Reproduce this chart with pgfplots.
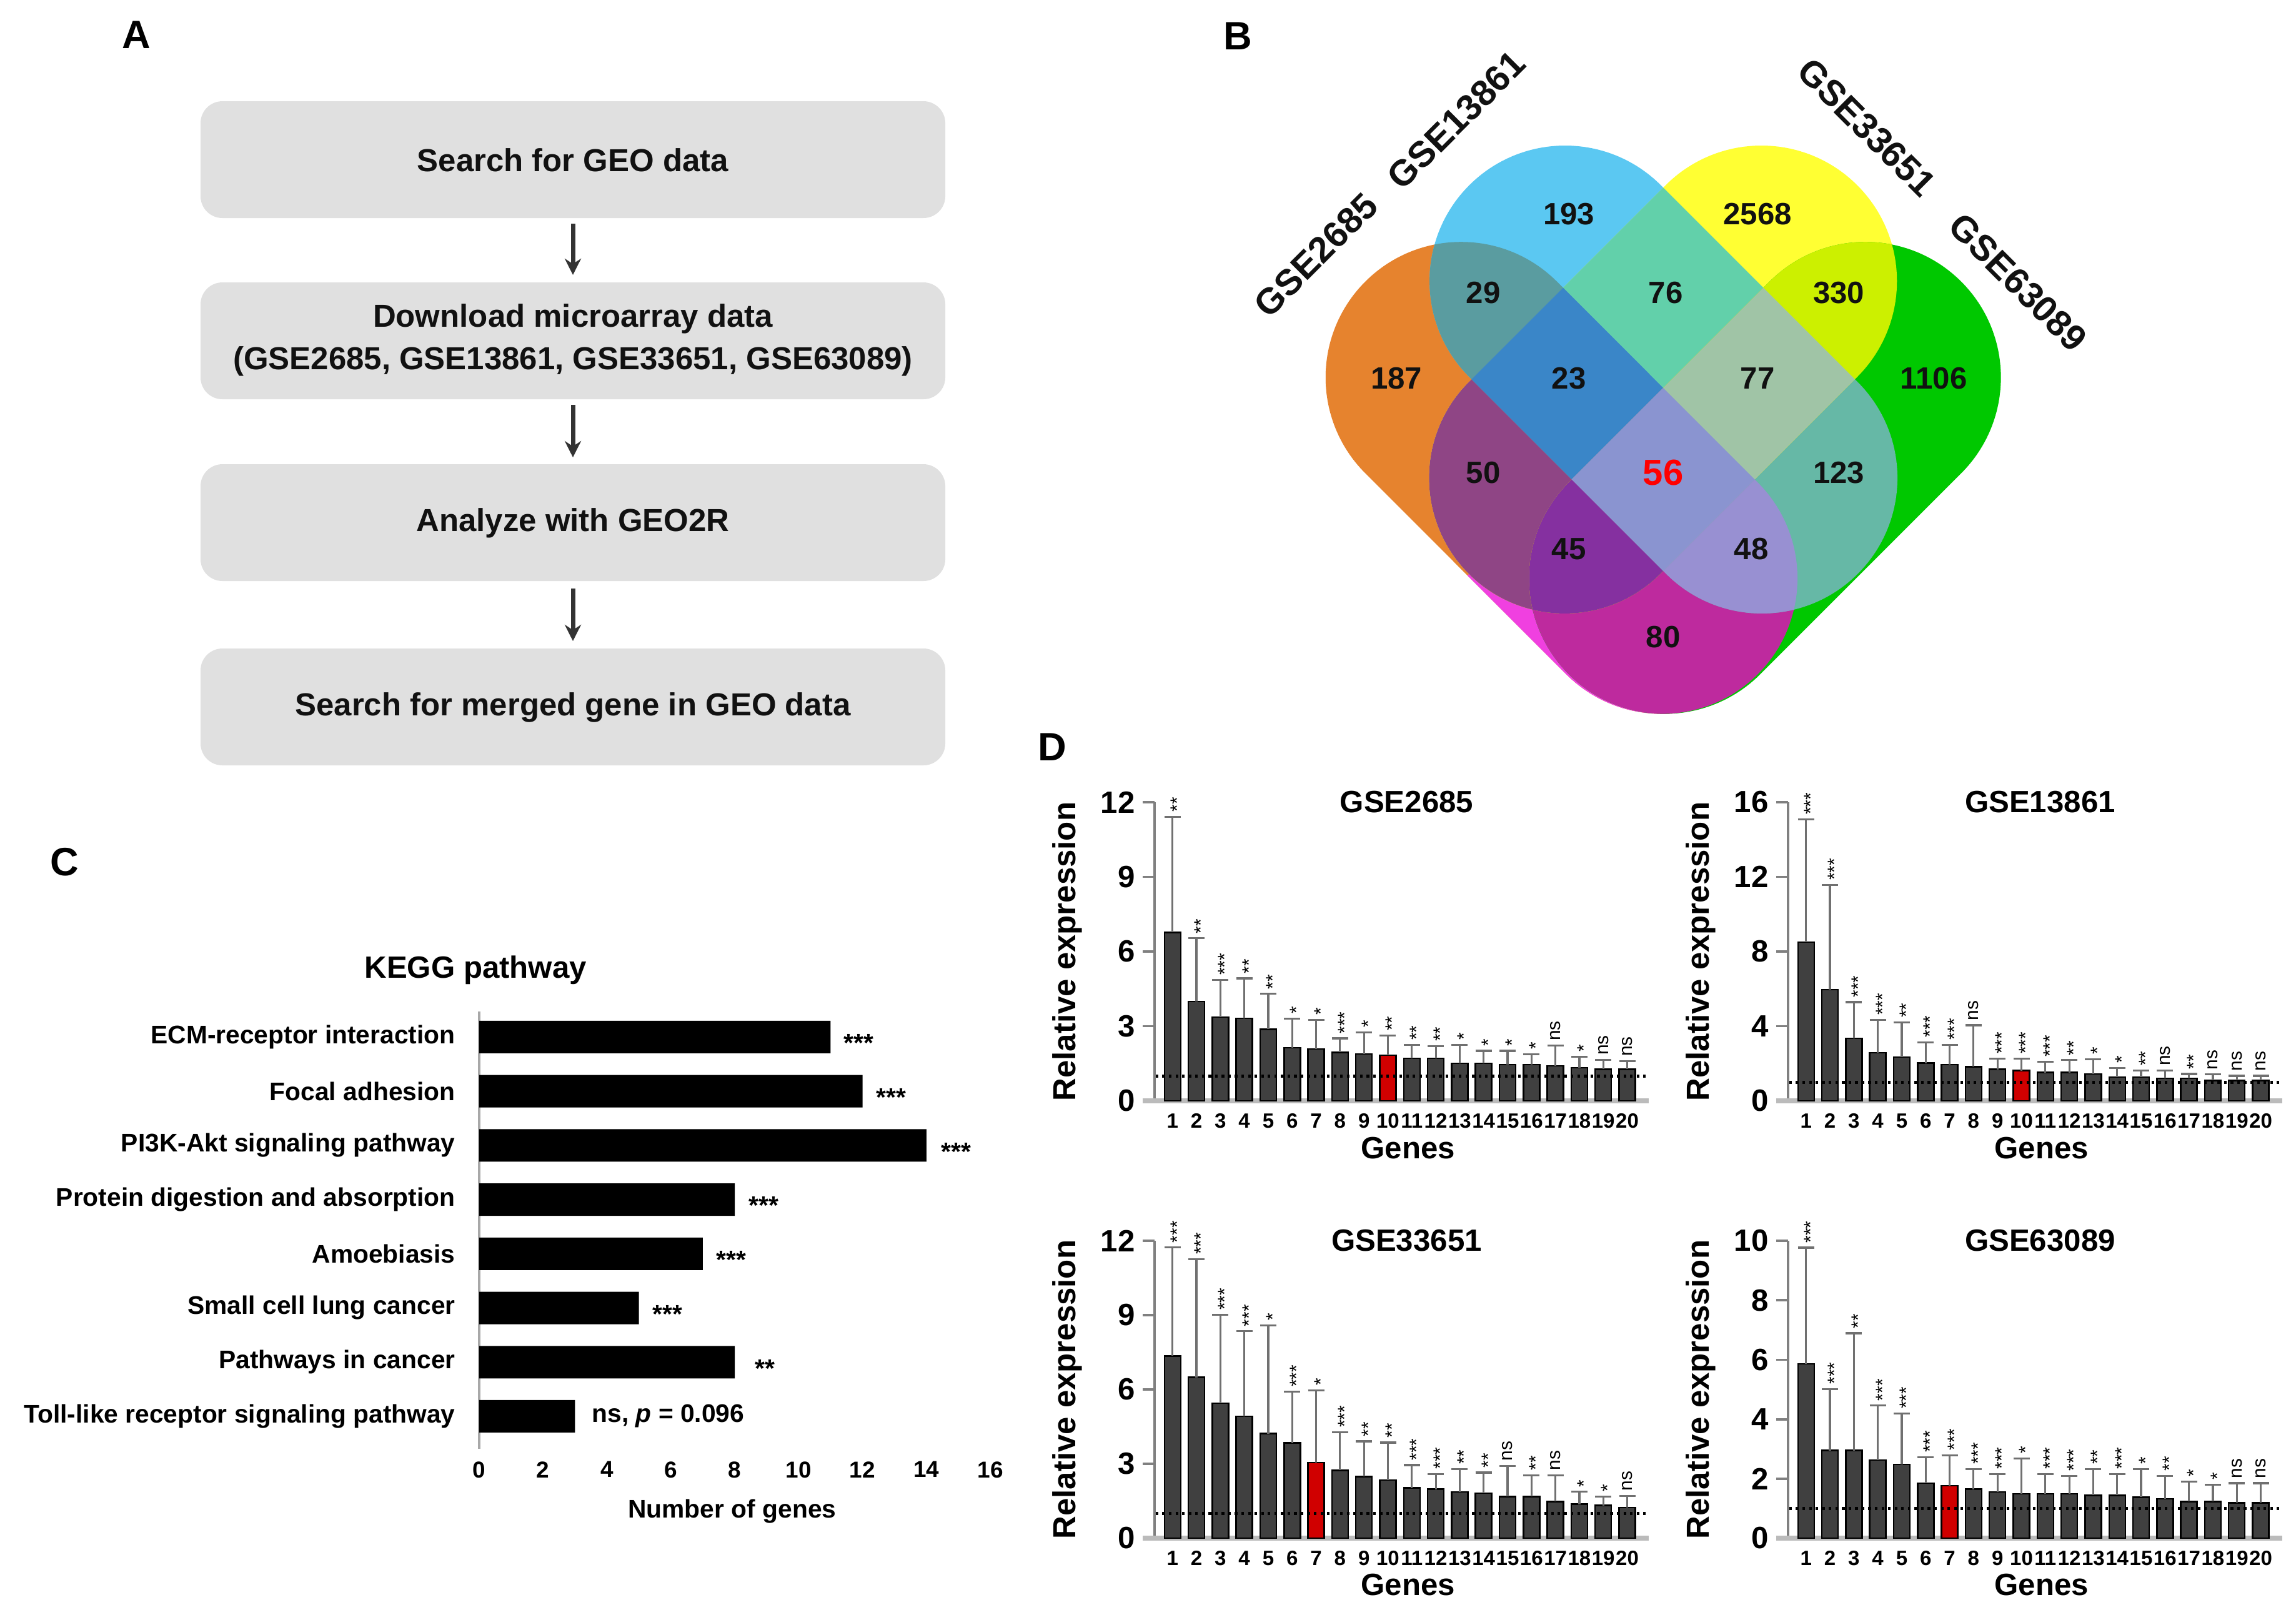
\documentclass[border=0pt]{standalone}
\usepackage{fontspec}
\setmainfont{Liberation Sans}
\usepackage{pgfplots}
\usepackage{pgfplotstable}
\pgfplotsset{compat=1.18}
\usetikzlibrary{arrows.meta}

\definecolor{boxgrey}{HTML}{E0E0E0}
\definecolor{arrowc}{HTML}{333333}
\definecolor{cO}{HTML}{E6832E}
\definecolor{cB}{HTML}{5BC8F2}
\definecolor{cY}{HTML}{FFFF33}
\definecolor{cG}{HTML}{00C800}
\definecolor{cOB}{HTML}{5A9CA0}
\definecolor{cOY}{HTML}{8F4585}
\definecolor{cOG}{HTML}{BE2A9E}
\definecolor{cBY}{HTML}{62D0AA}
\definecolor{cBG}{HTML}{66B8A6}
\definecolor{cYG}{HTML}{CCF000}
\definecolor{cOBY}{HTML}{3A86C8}
\definecolor{cOBG}{HTML}{9890D2}
\definecolor{cOYG}{HTML}{8530A0}
\definecolor{cBYG}{HTML}{A0C4A6}
\definecolor{cOBYG}{HTML}{8A94D0}
\definecolor{cPink}{HTML}{F040E0}
\definecolor{bardark}{HTML}{404040}
\definecolor{barred}{HTML}{D00000}
\definecolor{errgrey}{HTML}{707070}
\definecolor{axgrey}{HTML}{808080}
\definecolor{xaxgrey}{HTML}{BBBBBB}
\definecolor{cgrey}{HTML}{A8A8A8}
\definecolor{txt}{HTML}{111111}

\newcommand{\fs}[1]{\fontsize{#1}{#1}\selectfont}
\protected\def\SigA{\smash{\raisebox{-0.585em}{*}}}
\protected\def\SigB{\smash{\raisebox{-0.585em}{**}}}
\protected\def\SigC{\smash{\raisebox{-0.585em}{***}}}
\protected\def\SigN{\smash{\raisebox{-0.26em}{ns}}}

% Venn capsules (pixel coordinates, y downwards)
\def\VO{(2338.6,604.1) ++(135:216.9) arc[start angle=135,end angle=315,radius=216.9] -- ++(321.5,321.6) arc[start angle=-45,end angle=135,radius=216.9] -- cycle}
\def\VB{(2505.0,449.9) ++(135:216.9) arc[start angle=135,end angle=315,radius=216.9] -- ++(315.1,315.1) arc[start angle=-45,end angle=135,radius=216.9] -- cycle}
\def\VY{(2819.3,449.9) ++(225:216.9) arc[start angle=225,end angle=405,radius=216.9] -- ++(-315.1,315.1) arc[start angle=45,end angle=225,radius=216.9] -- cycle}
\def\VG{(2985.7,604.1) ++(225:216.9) arc[start angle=225,end angle=405,radius=216.9] -- ++(-321.5,321.6) arc[start angle=45,end angle=225,radius=216.9] -- cycle}

% Panel D data: gene, mean, top of error bar, significance
\pgfplotstableread{
x y t s
1 6.77 11.42 \SigB
2 3.99 6.53 \SigB
3 3.36 4.86 \SigC
4 3.31 4.92 \SigB
5 2.88 4.30 \SigB
6 2.14 3.30 \SigA
7 2.08 3.26 \SigA
8 1.95 2.51 \SigC
9 1.89 2.75 \SigA
10 1.84 2.62 \SigB
11 1.71 2.25 \SigB
12 1.71 2.20 \SigB
13 1.51 2.25 \SigA
14 1.51 2.01 \SigA
15 1.46 2.01 \SigA
16 1.46 1.87 \SigA
17 1.40 2.22 \SigN
18 1.33 1.78 \SigA
19 1.27 1.64 \SigN
20 1.27 1.59 \SigN
}\dA
\pgfplotstableread{
x y t s
1 8.51 15.08 \SigC
2 5.96 11.56 \SigC
3 3.34 5.29 \SigC
4 2.58 4.33 \SigC
5 2.35 4.20 \SigB
6 2.02 3.14 \SigC
7 1.95 2.99 \SigC
8 1.83 4.05 \SigN
9 1.69 2.26 \SigC
10 1.62 2.26 \SigC
11 1.52 2.09 \SigC
12 1.52 2.18 \SigB
13 1.44 2.23 \SigA
14 1.27 1.76 \SigA
15 1.27 1.62 \SigB
16 1.20 1.62 \SigN
17 1.20 1.44 \SigB
18 1.09 1.41 \SigN
19 1.09 1.34 \SigN
20 1.09 1.34 \SigN
}\dB
\pgfplotstableread{
x y t s
1 7.35 11.73 \SigC
2 6.49 11.26 \SigC
3 5.44 9.01 \SigC
4 4.92 8.35 \SigC
5 4.22 8.59 \SigA
6 3.84 5.91 \SigC
7 3.05 5.97 \SigA
8 2.74 4.27 \SigC
9 2.49 3.91 \SigB
10 2.35 3.86 \SigB
11 2.03 2.95 \SigC
12 1.98 2.59 \SigC
13 1.86 2.79 \SigB
14 1.81 2.65 \SigB
15 1.68 2.92 \SigN
16 1.68 2.54 \SigB
17 1.48 2.54 \SigN
18 1.37 1.87 \SigA
19 1.32 1.68 \SigA
20 1.24 1.71 \SigN
}\dC
\pgfplotstableread{
x y t s
1 5.86 9.77 \SigC
2 2.95 5.02 \SigC
3 2.95 6.89 \SigB
4 2.63 4.46 \SigC
5 2.48 4.19 \SigC
6 1.85 2.72 \SigC
7 1.76 2.79 \SigC
8 1.65 2.32 \SigC
9 1.55 2.16 \SigC
10 1.49 2.68 \SigA
11 1.49 2.16 \SigC
12 1.49 2.10 \SigC
13 1.44 2.32 \SigB
14 1.44 2.16 \SigC
15 1.38 2.32 \SigA
16 1.33 2.10 \SigB
17 1.23 1.91 \SigA
18 1.23 1.80 \SigA
19 1.19 1.85 \SigN
20 1.19 1.85 \SigN
}\dD

\pgfplotsset{
  dpanel/.style={
    scale only axis, anchor=south west, width=79.1mm,
    xmin=0.25, xmax=20.9, ymin=0,
    axis x line*=bottom, axis y line*=left,
    x axis line style={draw=none, -},
    y axis line style={draw=axgrey, line width=1.1pt, -},
    xtick={1,...,20},
    xtick style={draw=none},
    ytick style={draw=axgrey, line width=1.1pt},
    tick align=outside, major tick length=1.9mm,
    clip=false,
    /pgf/number format/assume math mode=true,
    xticklabel style={font=\fs{9.4}\bfseries, yshift=1.1mm},
    yticklabel style={font=\fs{14}\bfseries},
    every axis title/.style={font=\fs{14}\bfseries, at={(axis description cs:0.51,1)}, anchor=center},
    xlabel={Genes}, ylabel={Relative expression},
    xlabel style={font=\fs{14}\bfseries, at={(axis description cs:0.513,-0.157)}, anchor=center},
    ylabel style={font=\fs{14.5}\bfseries, at={(axis description cs:-0.177,0.5)}, anchor=center},
  },
  darkbar/.style={ybar, bar width=2.6mm, bar shift=0pt, fill=bardark, draw=black, line width=0.7pt,
    error bars/.cd, y dir=plus, y explicit,
    error bar style={draw=errgrey, line width=0.9pt, solid},
    error mark options={draw=errgrey, line width=0.9pt, mark size=1.3mm, rotate=90}},
  redbar/.style={ybar, bar width=2.6mm, bar shift=0pt, fill=barred, draw=black, line width=0.7pt,
    restrict x to domain=#1,
    error bars/.cd, y dir=plus, y explicit,
    error bar style={draw=errgrey, line width=0.9pt, solid},
    error mark options={draw=errgrey, line width=0.9pt, mark size=1.3mm, rotate=90}},
  sigl/.style={draw=none, mark=none, nodes near coords, point meta=explicit symbolic,
    every node near coord/.append style={rotate=90, anchor=west, inner sep=2pt, font=\fs{8.5}, text=black}},
  refline/.style={black, line width=1.4pt, dash pattern=on 1.2pt off 1.8pt, mark=none},
}

\begin{document}
\begin{tikzpicture}
\path[use as bounding box] (0,0) rectangle (367.5mm,-259.2mm);

\begin{scope}[x=0.1mm,y=-0.1mm]
% ---------------- Panel A ----------------
\node[font=\fs{18}\bfseries] at (218,56) {A};
\foreach \ya/\yb in {162/349, 452/639, 743/930, 1038/1225}
  \fill[boxgrey, rounded corners=3.5mm] (321,\ya) rectangle (1513,\yb);
\node[font=\fs{14.5}\bfseries, text=txt] at (917,256) {Search for GEO data};
\node[font=\fontsize{14.5}{19.3}\selectfont\bfseries, text=txt, align=center] at (917,544) {Download microarray data\\(GSE2685, GSE13861, GSE33651, GSE63089)};
\node[font=\fs{14.5}\bfseries, text=txt] at (917,837) {Analyze with GEO2R};
\node[font=\fs{14.5}\bfseries, text=txt] at (917,1132) {Search for merged gene in GEO data};
\foreach \ya/\yb in {358/440, 648/732, 942/1026}
  \draw[arrowc, line width=2pt, -{Stealth[length=2.6mm,width=2.6mm]}] (917,\ya) -- (917,\yb);

% ---------------- Panel B ----------------
\node[font=\fs{18}\bfseries] at (1981,58) {B};
\fill[cO] \VO;
\begin{scope}\clip \VO; \fill[cPink] (2270,1000) -- (3270,0) -- (4070,800) -- (3070,1800) -- cycle; \end{scope}
\fill[cB] \VB;
\fill[cY] \VY;
\fill[cG] \VG;
\begin{scope}\clip \VO; \fill[cOB] \VB; \end{scope}
\begin{scope}\clip \VO; \fill[cOY] \VY; \end{scope}
\begin{scope}\clip \VO; \fill[cOG] \VG; \end{scope}
\begin{scope}\clip \VB; \fill[cBY] \VY; \end{scope}
\begin{scope}\clip \VB; \fill[cBG] \VG; \end{scope}
\begin{scope}\clip \VY; \fill[cYG] \VG; \end{scope}
\begin{scope}\clip \VO; \clip \VB; \fill[cOBY] \VY; \end{scope}
\begin{scope}\clip \VO; \clip \VB; \fill[cOBG] \VG; \end{scope}
\begin{scope}\clip \VO; \clip \VY; \fill[cOYG] \VG; \end{scope}
\begin{scope}\clip \VB; \clip \VY; \fill[cBYG] \VG; \end{scope}
\begin{scope}\clip \VO; \clip \VB; \clip \VY; \fill[cOBYG] \VG; \end{scope}

\begin{scope}[every node/.style={font=\fs{14}\bfseries, text=txt}]
\node at (2511,343) {193};
\node at (2813,343) {2568};
\node at (2374,469) {29};
\node at (2666,469) {76};
\node at (2943,469) {330};
\node at (2235,606) {187};
\node at (2511,606) {23};
\node at (2813,606) {77};
\node at (3095,606) {1106};
\node at (2374,757) {50};
\node at (2943,757) {123};
\node at (2511,879) {45};
\node at (2803,879) {48};
\node at (2662,1020) {80};
\end{scope}
\node[font=\fs{16.5}\bfseries, text=red] at (2662,757) {56};
\node[font=\fs{16.5}\bfseries, text=txt, rotate=45] at (2106,408) {GSE2685};
\node[font=\fs{16.5}\bfseries, text=txt, rotate=45] at (2331,192) {GSE13861};
\node[font=\fs{16.5}\bfseries, text=txt, rotate=-45] at (2988,204) {GSE33651};
\node[font=\fs{16.5}\bfseries, text=txt, rotate=-45] at (3230,452) {GSE63089};

% ---------------- Panel letters ----------------
\node[font=\fs{18}\bfseries] at (103,1380) {C};
\node[font=\fs{18}\bfseries] at (1684,1196) {D};
\end{scope}

% ---------------- Panel C ----------------
\begin{axis}[scale only axis, anchor=south west, at={(76.7mm,-231.9mm)},
  width=81.8mm, height=70mm,
  xmin=0, xmax=16, ymin=-0.6, ymax=7.47,
  axis x line*=bottom, axis y line*=left,
  x axis line style={draw=none, -},
  y axis line style={draw=cgrey, line width=1.4pt, -},
  xtick={0,2,...,16}, ytick={0,...,7},
  yticklabels={Toll-like receptor signaling pathway, Pathways in cancer, Small cell lung cancer, Amoebiasis, Protein digestion and absorption, PI3K-Akt signaling pathway, Focal adhesion, ECM-receptor interaction},
  tick style={draw=none},
  clip=false,
  /pgf/number format/assume math mode=true,
  xticklabel style={font=\fs{10.5}\bfseries, yshift=-0.8mm},
  yticklabel style={font=\fs{11.6}\bfseries, xshift=-2.6mm},
  title={KEGG pathway},
  every axis title/.style={font=\fs{14}\bfseries, at={(axis description cs:-0.007,1)}, anchor=center, yshift=6.6mm},
  xlabel={Number of genes},
  xlabel style={font=\fs{11.6}\bfseries, at={(axis description cs:0.495,-0.143)}, anchor=center},
]
\addplot[xbar, bar width=5.2mm, bar shift=0pt, fill=black, draw=none]
  coordinates {(3,0) (8,1) (5,2) (7,3) (8,4) (14,5) (12,6) (11,7)};
\begin{scope}[every node/.style={anchor=west, inner sep=0pt, font=\fs{11.6}\bfseries}]
\node at (axis cs:11.40,7) {\smash{\raisebox{-0.585em}{***}}};
\node at (axis cs:12.42,6) {\smash{\raisebox{-0.585em}{***}}};
\node at (axis cs:14.46,5) {\smash{\raisebox{-0.585em}{***}}};
\node at (axis cs:8.43,4) {\smash{\raisebox{-0.585em}{***}}};
\node at (axis cs:7.41,3) {\smash{\raisebox{-0.585em}{***}}};
\node at (axis cs:5.42,2) {\smash{\raisebox{-0.585em}{***}}};
\node at (axis cs:8.63,1) {\smash{\raisebox{-0.585em}{**}}};
\node at (axis cs:3.52,0) {ns, \textit{p} = 0.096};
\end{scope}
\end{axis}

% ---------------- Panel D ----------------
\begin{axis}[dpanel, at={(184.8mm,-176.2mm)}, height=47.8mm, ymax=12, ytick={0,3,6,9,12}, title={GSE2685}]
\draw[xaxgrey, line width=2.2pt] (axis cs:-0.25,0) -- (axis cs:20.9,0);
\addplot[darkbar] table[x=x, y=y, y error expr=\thisrow{t}-\thisrow{y}] {\dA};
\addplot[redbar=9.5:10.5] table[x=x, y=y, y error expr=\thisrow{t}-\thisrow{y}] {\dA};
\addplot[sigl] table[x=x, y=t, meta=s] {\dA};
\addplot[refline] coordinates {(0.3,1) (20.85,1)};
\end{axis}

\begin{axis}[dpanel, at={(286.2mm,-176.2mm)}, height=47.8mm, ymax=16, ytick={0,4,8,12,16}, title={GSE13861}]
\draw[xaxgrey, line width=2.2pt] (axis cs:-0.25,0) -- (axis cs:20.9,0);
\addplot[darkbar] table[x=x, y=y, y error expr=\thisrow{t}-\thisrow{y}] {\dB};
\addplot[redbar=9.5:10.5] table[x=x, y=y, y error expr=\thisrow{t}-\thisrow{y}] {\dB};
\addplot[sigl] table[x=x, y=t, meta=s] {\dB};
\addplot[refline] coordinates {(0.3,1) (20.85,1)};
\end{axis}

\begin{axis}[dpanel, at={(184.8mm,-246.2mm)}, height=47.6mm, ymax=12, ytick={0,3,6,9,12}, title={GSE33651}]
\draw[xaxgrey, line width=2.2pt] (axis cs:-0.25,0) -- (axis cs:20.9,0);
\addplot[darkbar] table[x=x, y=y, y error expr=\thisrow{t}-\thisrow{y}] {\dC};
\addplot[redbar=6.5:7.5] table[x=x, y=y, y error expr=\thisrow{t}-\thisrow{y}] {\dC};
\addplot[sigl] table[x=x, y=t, meta=s] {\dC};
\addplot[refline] coordinates {(0.3,1) (20.85,1)};
\end{axis}

\begin{axis}[dpanel, at={(286.2mm,-246.2mm)}, height=47.6mm, ymax=10, ytick={0,2,4,6,8,10}, title={GSE63089}]
\draw[xaxgrey, line width=2.2pt] (axis cs:-0.25,0) -- (axis cs:20.9,0);
\addplot[darkbar] table[x=x, y=y, y error expr=\thisrow{t}-\thisrow{y}] {\dD};
\addplot[redbar=6.5:7.5] table[x=x, y=y, y error expr=\thisrow{t}-\thisrow{y}] {\dD};
\addplot[sigl] table[x=x, y=t, meta=s] {\dD};
\addplot[refline] coordinates {(0.3,1) (20.85,1)};
\end{axis}
\end{tikzpicture}
\end{document}
